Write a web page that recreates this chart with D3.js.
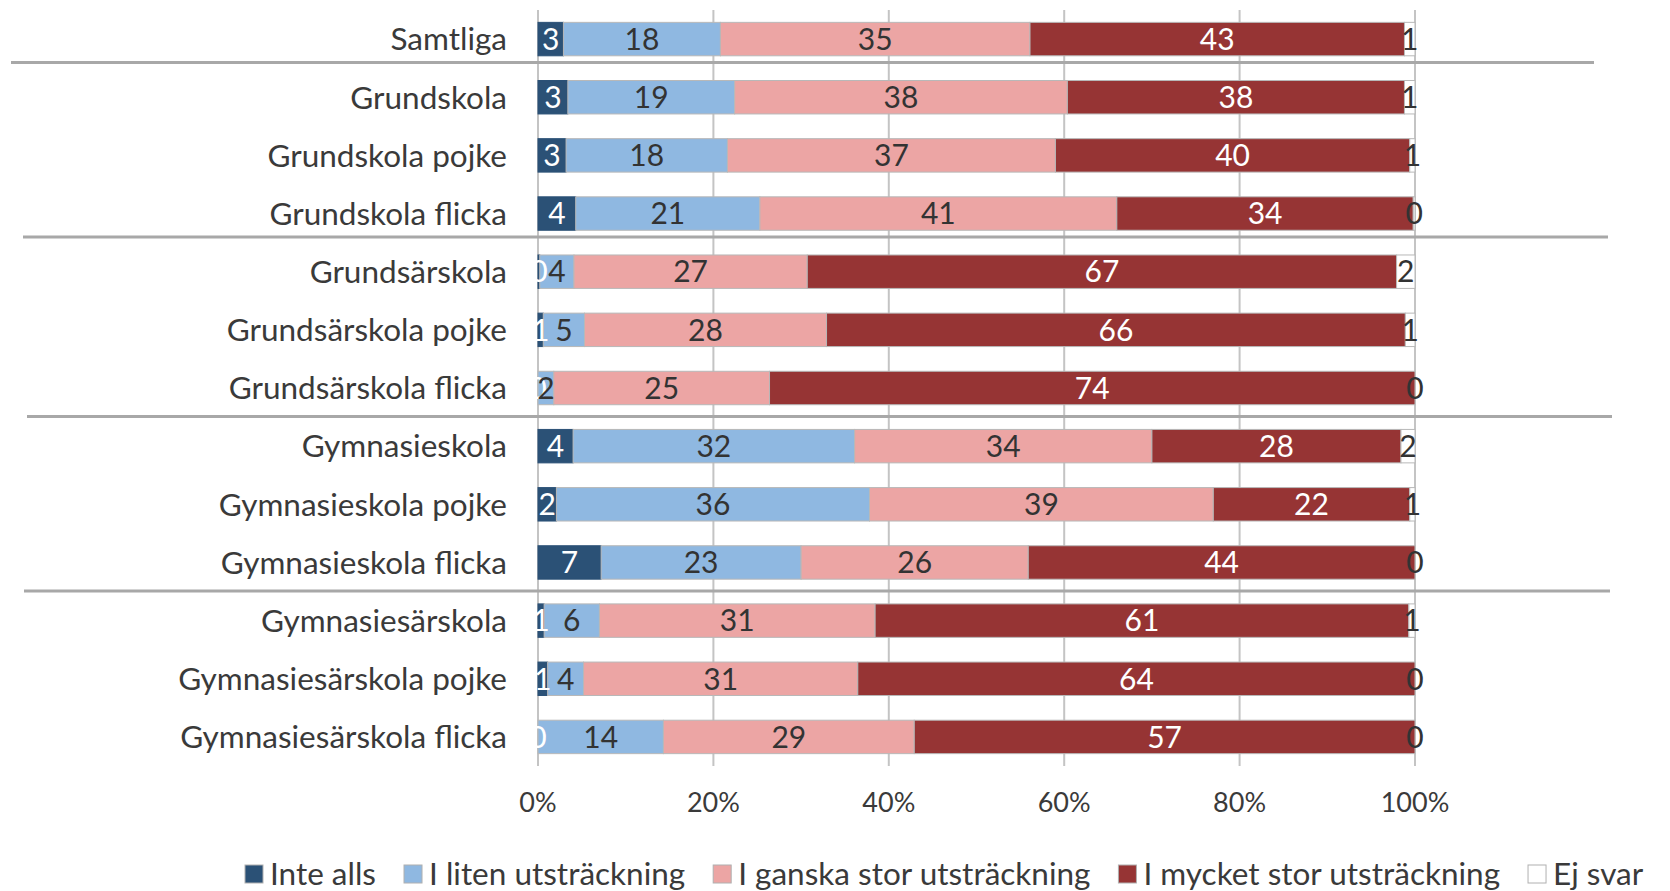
<!DOCTYPE html>
<html>
<head>
<meta charset="utf-8">
<script src="https://cdn.jsdelivr.net/npm/d3@7"></script>
<style>
  body { margin: 0; background: #fff; }
  svg text { font-family: Lato, "Open Sans", sans-serif; fill: #3a3a3a; }
</style>
</head>
<body>
<div id="chart"></div>
<script>
// categories (top to bottom)
const categories = ["Samtliga", "Grundskola", "Grundskola pojke", "Grundskola flicka",
  "Grundsärskola", "Grundsärskola pojke", "Grundsärskola flicka",
  "Gymnasieskola", "Gymnasieskola pojke", "Gymnasieskola flicka",
  "Gymnasiesärskola", "Gymnasiesärskola pojke", "Gymnasiesärskola flicka"];

// percent per answer
const inteAlls   = [2.9, 3.4, 3.2, 4.3, 0.2, 0.6, 0, 4.0, 2.1, 7.2, 0.7, 1.1, 0];
const litenUtstr = [17.9, 19.0, 18.4, 21.0, 3.9, 4.7, 1.8, 32.1, 35.7, 22.8, 6.3, 4.1, 14.3];
const ganskaStor = [35.3, 37.9, 37.4, 40.7, 26.6, 27.6, 24.6, 33.9, 39.2, 25.9, 31.4, 31.3, 28.6];
const mycketStor = [42.7, 38.4, 40.4, 33.8, 67.2, 66.0, 73.6, 28.4, 22.4, 44.1, 60.8, 63.6, 57.1];
const ejSvar     = [1.2, 1.2, 0.6, 0.2, 2.1, 1.1, 0, 1.6, 0.6, 0, 0.7, 0, 0];

const seriesNames = ["Inte alls", "I liten utsträckning", "I ganska stor utsträckning", "I mycket stor utsträckning", "Ej svar"];
const seriesValues = [inteAlls, litenUtstr, ganskaStor, mycketStor, ejSvar];
const xTicks = [0, 0.2, 0.4, 0.6, 0.8, 1];
// groups start at these categories
const groupStarts = ["Grundskola", "Grundsärskola", "Gymnasieskola", "Gymnasiesärskola"];

const colors = ["#2b5176", "#8fb8e1", "#eca5a4", "#963434", "#ffffff"];
const labelColors = ["#ffffff", "#333333", "#333333", "#ffffff", "#333333"];

const W = 1670, H = 891;
const plotLeft = 538, plotRight = 1415, plotTop = 10, plotBottom = 766;

const svg = d3.select("#chart").append("svg")
  .attr("width", W)
  .attr("height", H);

// build rows for the stack
var rows = categories.map(function(c, i) {
  var r = {cat: c};
  seriesNames.forEach(function(s, j) { r[s] = seriesValues[j][i]; });
  return r;
});

var stacked = d3.stack().keys(seriesNames).offset(d3.stackOffsetExpand)(rows);

var x = d3.scaleLinear().domain([0, 1]).range([plotLeft, plotRight]);
var y = d3.scaleBand().domain(categories).range([plotTop, plotBottom])
  .paddingInner(0.425).paddingOuter(0.2125);

// gridlines
svg.append("g").selectAll("line").data(xTicks).enter().append("line")
  .attr("x1", d => x(d)).attr("x2", d => x(d))
  .attr("y1", plotTop).attr("y2", plotBottom)
  .style("stroke", "#c4c4c4")
  .style("stroke-width", 2);

// tick labels
svg.append("g").selectAll("text").data(xTicks).enter().append("text")
  .attr("x", d => x(d))
  .attr("y", 812)
  .attr("text-anchor", "middle")
  .style("font-size", "27px")
  .text(d => d3.format(".0%")(d));

// group separators (hand drawn lines in the original)
var sepLayout = [{dy: 18, x1: 11, x2: 1594}, {dy: 18, x1: 23, x2: 1608},
                 {dy: 13, x1: 27, x2: 1612}, {dy: 13, x1: 24, x2: 1610}];
svg.append("g").selectAll("line").data(groupStarts).enter().append("line")
  .attr("x1", (d, i) => sepLayout[i].x1)
  .attr("x2", (d, i) => sepLayout[i].x2)
  .attr("y1", (d, i) => y(d) - sepLayout[i].dy)
  .attr("y2", (d, i) => y(d) - sepLayout[i].dy)
  .style("stroke", "#a8a8a8")
  .style("stroke-width", 3);

// bars
var layers = svg.append("g").selectAll("g").data(stacked).enter().append("g")
  .attr("fill", (d, i) => colors[i]);

layers.selectAll("rect").data(d => d).enter().append("rect")
  .attr("x", d => x(d[0]))
  .attr("y", d => y(d.data.cat))
  .attr("width", d => x(d[1]) - x(d[0]))
  .attr("height", y.bandwidth())
  .style("stroke", function() {
    return d3.select(this.parentNode).datum().index == 0 ? "#2b5176" : "#b8b8b8";
  })
  .style("stroke-width", 1);

// value labels
stacked.forEach(function(layer, i) {
  svg.append("g").selectAll("text").data(layer).enter().append("text")
    .attr("x", d => (x(d[0]) + x(d[1])) / 2)
    .attr("y", d => y(d.data.cat) + y.bandwidth() / 2)
    .attr("dy", "0.36em")
    .attr("text-anchor", "middle")
    .style("font-size", "30px")
    .style("fill", labelColors[i])
    .text(d => Math.round(d.data[layer.key]));
});

// category labels
svg.append("g").selectAll("text").data(categories).enter().append("text")
  .attr("x", 507)
  .attr("y", d => y(d) + y.bandwidth() / 2)
  .attr("dy", "0.36em")
  .attr("text-anchor", "end")
  .style("font-size", "31.5px")
  .text(d => d);

// legend
var legend = svg.append("g");
var lx = 245;
seriesNames.forEach(function(s, i) {
  legend.append("rect")
    .attr("x", lx).attr("y", 865)
    .attr("width", 18).attr("height", 18)
    .style("fill", colors[i])
    .style("stroke", "#b0b0b0")
    .style("stroke-width", 1);
  var t = legend.append("text")
    .attr("x", lx + 25)
    .attr("y", 885)
    .style("font-size", "31.5px")
    .text(s);
  lx += 25 + t.node().getComputedTextLength() + 28;
});
</script>
</body>
</html>
